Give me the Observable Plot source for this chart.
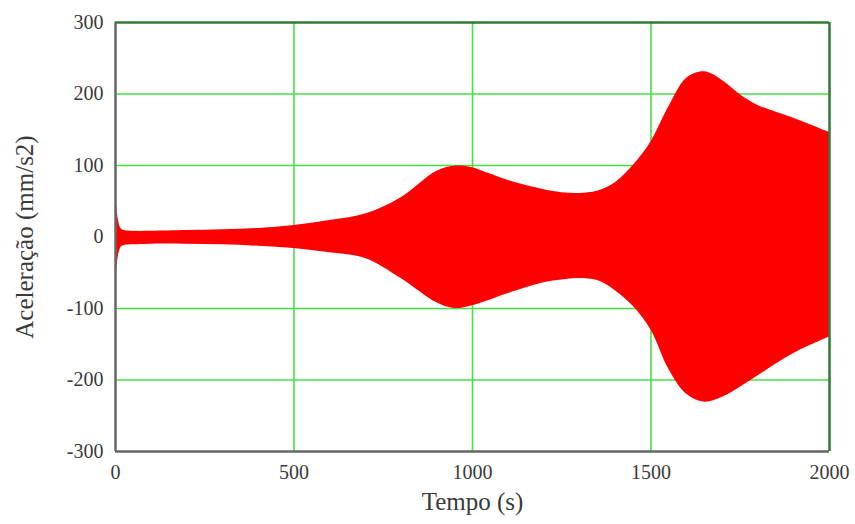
<!DOCTYPE html>
<html>
<head>
<meta charset="utf-8">
<script src="https://cdn.jsdelivr.net/npm/d3@7"></script>
<script src="https://cdn.jsdelivr.net/npm/@observablehq/plot@0.6"></script>
<style>
  html, body { margin: 0; padding: 0; background: #fff; }
  #chart svg { display: block; }
  #chart g[aria-label="x-axis label"] text,
  #chart g[aria-label="y-axis label"] text { font-size: 25px; }
</style>
</head>
<body>
<div id="chart"></div>
<script>
// Time (s) samples of the response envelope
const tempo = [0, 3, 8, 15, 25, 50, 100, 200, 300, 400, 500, 600, 700, 800, 900, 950, 1000, 1050, 1100, 1200, 1250, 1300, 1350, 1400, 1450, 1500, 1550, 1600, 1650, 1700, 1750, 1800, 1900, 2000];
// Upper envelope of acceleration (mm/s2)
const superior = [48, 44, 24, 12, 9, 8, 8, 9, 10, 12, 16, 23, 32, 55, 92, 99, 97, 88, 79, 66, 62, 61, 64, 76, 100, 133, 182, 222, 231, 219, 199, 184, 166, 146];
// Lower envelope of acceleration (mm/s2)
const inferior = [-52, -47, -27, -15, -12, -11, -10, -10, -11, -13, -16, -22, -30, -58, -92, -100, -96, -88, -79, -64, -60, -58, -61, -75, -97, -130, -185, -220, -231, -224, -210, -194, -163, -140];

const xTicks = [0, 500, 1000, 1500, 2000];
const yTicks = [-300, -200, -100, 0, 100, 200, 300];
const xGrid = [500, 1000, 1500];
const yGrid = [-200, -100, 0, 100, 200];

const data = tempo.map((t, i) => ({t, hi: superior[i], lo: inferior[i]}));

const chart = Plot.plot({
  width: 855,
  height: 524,
  marginLeft: 115,
  marginRight: 26,
  marginTop: 22,
  marginBottom: 73,
  style: {fontFamily: "'Liberation Serif', 'Times New Roman', serif", fontSize: "20px", color: "#3a3a3a", background: "#fff"},
  x: {domain: [0, 2000]},
  y: {domain: [-300, 300]},
  marks: [
    Plot.ruleX(xGrid, {stroke: "#44e044", strokeWidth: 1.6}),
    Plot.ruleY(yGrid, {stroke: "#44e044", strokeWidth: 1.6}),
    Plot.areaY(data, {x: "t", y1: "lo", y2: "hi", fill: "#ff0000", curve: "catmull-rom"}),
    Plot.ruleY([300], {stroke: "#2f7a35", strokeWidth: 2.5}),
    Plot.ruleX([2000], {stroke: "#2f7a35", strokeWidth: 2.5}),
    Plot.ruleX([0], {stroke: "#666", strokeWidth: 2.5}),
    Plot.ruleY([-300], {stroke: "#666", strokeWidth: 2.5}),
    Plot.axisX({ticks: xTicks, tickSize: 0, tickPadding: 13, tickFormat: d => String(d), label: "Tempo (s)", labelAnchor: "center", labelArrow: "none", labelOffset: 58}),
    Plot.axisY({ticks: yTicks, tickSize: 0, tickPadding: 12, tickFormat: d => String(d), label: "Aceleração (mm/s2)", labelAnchor: "center", labelArrow: "none", labelOffset: 100})
  ]
});
document.getElementById("chart").appendChild(chart);
</script>
</body>
</html>
